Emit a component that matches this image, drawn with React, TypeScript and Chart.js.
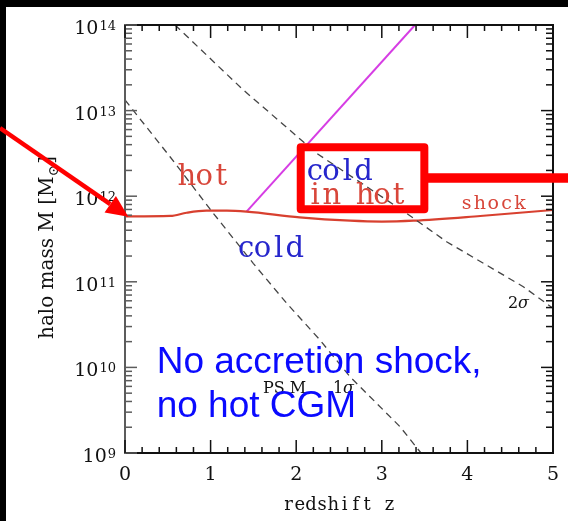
import React, { useEffect, useRef } from 'react';
import { Chart, registerables } from 'chart.js';

Chart.register(...registerables);

const W = 568;
const H = 521;

// Press–Schechter characteristic mass, 1σ and 2σ (redshift, log10 M/Msun)
const sigma1Z = [0, 0.526, 1.032, 1.498, 1.889, 2.278, 2.629, 3.213, 3.458];
const sigma1LogM = [13.124, 12.461, 11.8, 11.216, 10.749, 10.32, 9.891, 9.307, 9.0];
const sigma2Z = [0.584, 1.382, 2.239, 3.29, 3.757, 4.653, 5.0];
const sigma2LogM = [14.0, 13.241, 12.501, 11.8, 11.468, 10.943, 10.69];

// critical mass for a stable virial shock
const shockZ = [0, 0.53, 0.72, 0.95, 1.19, 1.42, 2.04, 2.63, 3.0, 3.37, 4.15, 5.0];
const shockLogM = [11.763, 11.769, 11.807, 11.831, 11.831, 11.819, 11.753, 11.714, 11.704, 11.714, 11.769, 11.839];

// upper bound of the cold-streams-in-hot-medium regime
const streamZ = [1.42, 3.388];
const streamLogM = [11.819, 14.0];

// axis tick labels
const xTickLabels = [0, 1, 2, 3, 4, 5];
const yTickExponents = [9, 10, 11, 12, 13, 14];

const SERIF = '"DejaVu Serif", serif';
const SANS = '"Liberation Sans", Arial, sans-serif';
const RED_TXT = '#d8463a';
const BLUE_TXT = '#2626cc';

const toPoints = (zs: number[], lms: number[]) => zs.map((z, i) => ({ x: z, y: Math.pow(10, lms[i]) }));

// draws characters on a fixed advance, like the plotting package's typewriter spacing
function spaced(ctx: CanvasRenderingContext2D, text: string, x: number, y: number, adv: number) {
  ctx.textAlign = 'center';
  Array.from(text).forEach((ch, i) => ctx.fillText(ch, x + adv * (i + 0.5), y));
}

const decorations = {
  id: 'decorations',
  beforeDraw(chart: any) {
    const ctx: CanvasRenderingContext2D = chart.ctx;
    ctx.save();
    ctx.fillStyle = '#000';
    ctx.fillRect(0, 0, W, H);
    ctx.fillStyle = '#fff';
    ctx.fillRect(6, 7, W - 6, H - 7);
    ctx.restore();
  },
  afterDraw(chart: any) {
    const ctx: CanvasRenderingContext2D = chart.ctx;
    const xs = chart.scales.x;
    const ys = chart.scales.y;
    const { left, right, top, bottom } = chart.chartArea;
    const X = (z: number) => xs.getPixelForValue(z);
    const Y = (lm: number) => ys.getPixelForValue(Math.pow(10, lm));

    ctx.save();
    ctx.textBaseline = 'alphabetic';

    // frame
    ctx.lineWidth = 2;
    ctx.strokeStyle = '#111';
    ctx.beginPath();
    ctx.moveTo(left, top);
    ctx.lineTo(right, top);
    ctx.lineTo(right, bottom);
    ctx.lineTo(left, bottom);
    ctx.stroke();
    ctx.strokeStyle = '#5c5c5c';
    ctx.beginPath();
    ctx.moveTo(left, top - 1);
    ctx.lineTo(left, bottom + 1);
    ctx.stroke();

    // y ticks (decades and 2..9 minors), inward on both sides
    ctx.lineWidth = 1.5;
    for (let e = yTickExponents[0]; e <= yTickExponents[yTickExponents.length - 1]; e++) {
      for (let k = 1; k <= 9; k++) {
        if (e === yTickExponents[yTickExponents.length - 1] && k > 1) break;
        const py = ys.getPixelForValue(k * Math.pow(10, e));
        const len = k === 1 ? 12 : 7;
        ctx.strokeStyle = '#5c5c5c';
        ctx.beginPath();
        ctx.moveTo(left, py);
        ctx.lineTo(left + len, py);
        ctx.stroke();
        ctx.strokeStyle = '#111';
        ctx.beginPath();
        ctx.moveTo(right, py);
        ctx.lineTo(right - len, py);
        ctx.stroke();
      }
    }
    // x ticks every 0.2
    ctx.strokeStyle = '#111';
    for (let i = 0; i <= 25; i++) {
      const px = X(i * 0.2);
      const len = i % 5 === 0 ? 13 : 6;
      ctx.beginPath();
      ctx.moveTo(px, bottom);
      ctx.lineTo(px, bottom - len);
      ctx.moveTo(px, top);
      ctx.lineTo(px, top + len);
      ctx.stroke();
    }

    // tick labels
    ctx.fillStyle = '#111';
    ctx.font = `19px ${SERIF}`;
    ctx.textAlign = 'center';
    xTickLabels.forEach((v) => ctx.fillText(String(v), X(v), bottom + 27));
    yTickExponents.forEach((e) => {
      const py = ys.getPixelForValue(Math.pow(10, e));
      ctx.font = `13px ${SERIF}`;
      const sup = String(e);
      const sw = ctx.measureText(sup).width;
      ctx.textAlign = 'right';
      ctx.fillText(sup, left - 9, py + 5);
      ctx.font = `19px ${SERIF}`;
      ctx.fillText('10', left - 10 - sw, py + 9);
    });

    // axis titles
    ctx.font = `18px ${SERIF}`;
    spaced(ctx, 'redshift z', 283, 510, 11.2);
    ctx.save();
    ctx.translate(53, 339);
    ctx.rotate(-Math.PI / 2);
    ctx.textAlign = 'left';
    ctx.font = `20px ${SERIF}`;
    const head = 'halo mass M [M';
    ctx.fillText(head, 0, 0);
    let cx = ctx.measureText(head).width + 1;
    ctx.font = `14px ${SERIF}`;
    ctx.fillText('\u2299', cx - 1, 5);
    cx += ctx.measureText('\u2299').width;
    ctx.font = `20px ${SERIF}`;
    ctx.fillText(']', cx, 0);
    ctx.restore();

    // regime labels
    ctx.font = `29px ${SERIF}`;
    ctx.fillStyle = RED_TXT;
    spaced(ctx, 'hot', X(0.623), Y(12.131), 17.2);
    spaced(ctx, 'in hot', X(2.123), Y(11.909), 16.7);
    ctx.fillStyle = BLUE_TXT;
    spaced(ctx, 'cold', X(2.123), Y(12.189), 16.25);
    spaced(ctx, 'cold', X(1.32), Y(11.293), 16.25);
    ctx.font = `19px ${SERIF}`;
    ctx.fillStyle = RED_TXT;
    spaced(ctx, 'shock', X(3.914), Y(11.85), 13.3);

    // curve labels
    ctx.fillStyle = '#111';
    ctx.textAlign = 'left';
    ctx.font = `16px ${SERIF}`;
    ctx.fillText('PS M', X(1.612), Y(9.697));
    ctx.fillText('1', X(2.43), Y(9.697));
    ctx.fillText('2', X(4.474), Y(10.694));
    ctx.font = `italic 16px ${SERIF}`;
    ctx.fillText('\u03c3', X(2.43) + 10, Y(9.697));
    ctx.fillText('\u03c3', X(4.474) + 10, Y(10.694));

    // overlay statement
    ctx.fillStyle = '#0a0aff';
    ctx.font = `37px ${SANS}`;
    ctx.textAlign = 'left';
    ctx.fillText('No accretion shock,', X(0.37), Y(9.935));
    ctx.fillText('no hot CGM', X(0.37), Y(9.421));

    // highlight: arrow onto the shock line, box around the mixed regime
    ctx.strokeStyle = '#ff0000';
    ctx.fillStyle = '#ff0000';
    const tx = X(-1.46), ty = Y(12.797);
    const hx = X(0.039), hy = Y(11.761);
    const ang = Math.atan2(hy - ty, hx - tx);
    const hl = 22, hw = 10;
    const bx = hx - hl * Math.cos(ang), by = hy - hl * Math.sin(ang);
    ctx.lineWidth = 4.5;
    ctx.beginPath();
    ctx.moveTo(tx, ty);
    ctx.lineTo(bx, by);
    ctx.stroke();
    ctx.beginPath();
    ctx.moveTo(hx, hy);
    ctx.lineTo(bx - hw * Math.sin(ang), by + hw * Math.cos(ang));
    ctx.lineTo(bx + hw * Math.sin(ang), by - hw * Math.cos(ang));
    ctx.closePath();
    ctx.fill();

    ctx.lineWidth = 8;
    ctx.lineJoin = 'round';
    const x1 = X(2.053), x2 = X(3.497), y1 = Y(12.571), y2 = Y(11.847);
    ctx.strokeRect(x1, y1, x2 - x1, y2 - y1);
    ctx.lineWidth = 9.5;
    ctx.beginPath();
    ctx.moveTo(x2, Y(12.213));
    ctx.lineTo(W, Y(12.213));
    ctx.stroke();

    ctx.restore();
  },
};

export default function App() {
  const ref = useRef<HTMLCanvasElement>(null);

  useEffect(() => {
    if (!ref.current) return;
    const dashed = { borderColor: '#444', borderWidth: 1.3, borderDash: [7, 5] };
    const chart = new Chart(ref.current, {
      type: 'line',
      data: {
        datasets: [
          { label: 'PS 1σ', data: toPoints(sigma1Z, sigma1LogM), ...dashed },
          { label: 'PS 2σ', data: toPoints(sigma2Z, sigma2LogM), ...dashed },
          {
            label: 'shock',
            data: toPoints(shockZ, shockLogM),
            borderColor: '#d8402f',
            borderWidth: 2.2,
            cubicInterpolationMode: 'monotone',
          },
          {
            label: 'cold in hot',
            data: toPoints(streamZ, streamLogM),
            borderColor: '#d63de4',
            borderWidth: 2,
          },
        ] as any,
      },
      options: {
        responsive: false,
        animation: false,
        devicePixelRatio: 1,
        layout: { padding: { left: 125, right: 15, top: 25, bottom: 68 } },
        elements: { point: { radius: 0 } },
        scales: {
          x: { type: 'linear', min: 0, max: 5, display: false },
          y: { type: 'logarithmic', min: 1e9, max: 1e14, display: false },
        },
        plugins: { legend: { display: false }, tooltip: { enabled: false } },
      },
      plugins: [decorations],
    });
    return () => chart.destroy();
  }, []);

  return (
    <div style={{ position: 'absolute', left: 0, top: 0, width: W, height: H }}>
      <canvas ref={ref} width={W} height={H} style={{ width: W, height: H, display: 'block' }} />
    </div>
  );
}
